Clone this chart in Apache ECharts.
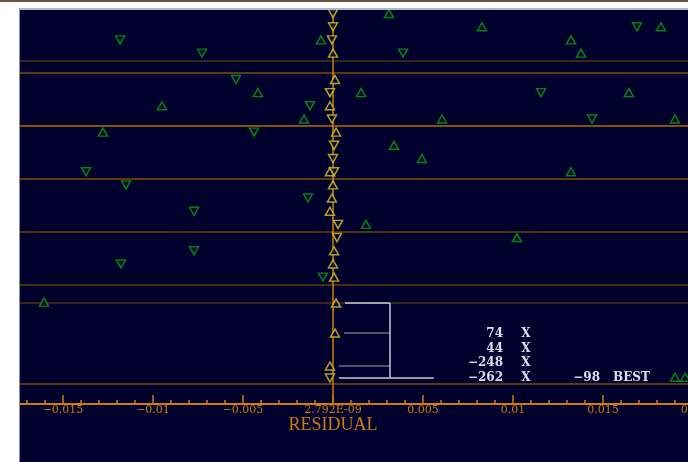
<!DOCTYPE html>
<html>
<head>
<meta charset="utf-8">
<script src="https://cdn.jsdelivr.net/npm/echarts@6/dist/echarts.min.js"></script>
<style>
  html, body { margin: 0; padding: 0; background: #ffffff; overflow: hidden; width: 688px; height: 462px; }
  #topRule { position: absolute; left: 0; top: 0; width: 688px; height: 2px; background: #6e5442; }
  #panel { position: absolute; left: 19px; top: 8px; width: 669px; height: 452px; background: #00002c;
           border-left: 1px solid #8c8ca8; border-top: 2px solid #b4b4cc; overflow: hidden; }
  #chart { position: absolute; left: -47px; top: 0; width: 790px; height: 452px; }
</style>
</head>
<body>
<div id="topRule"></div>
<div id="panel"><div id="chart"></div></div>
<script>
// Residual per row: [residual, row]
const yellowUp = [
  [0, 4], [0.00011, 6], [-0.00017, 8], [0.00017, 10], [-0.00017, 13], [0, 14],
  [-0.00006, 15], [-0.00017, 16], [0.00006, 19], [0, 20], [0.00006, 21]
];
const yellowDown = [
  [0, 1], [0, 2], [-0.00006, 3], [-0.00017, 7], [-0.00006, 9], [0.00006, 11],
  [0, 12], [0.00006, 13], [0.00028, 17], [0.00022, 18]
];
const greenUp = [
  [0.00311, 1], [0.00828, 2], [0.01822, 2], [-0.00067, 3], [0.01322, 3], [0.01378, 4],
  [-0.00417, 7], [0.00156, 7], [0.01644, 7], [-0.0095, 8], [-0.00161, 9], [0.00606, 9],
  [0.019, 9], [-0.01278, 10], [0.00339, 11], [0.00494, 12], [0.01322, 13], [0.00183, 17],
  [0.01022, 18], [-0.01606, 22.9], [0.019, 28.6], [0.01956, 28.6]
];
const greenDown = [
  [0.01689, 2], [-0.01183, 3], [-0.00728, 4], [0.00389, 4], [-0.00539, 6], [0.01156, 7],
  [-0.00128, 8], [0.01439, 9], [-0.00439, 10], [-0.01372, 13], [-0.0115, 14], [-0.00139, 15],
  [-0.00772, 16], [-0.00772, 19], [-0.01178, 20], [-0.00056, 21]
];

// Candidate solutions at the bottom, bracketed and scored
const candX = [0.00017, 0.00011, -0.00017, -0.00017];
const candRow = [22.97, 25.24, 27.75, 28.66];
const candDir = ['up', 'up', 'up', 'down'];
const candScore = [74, 44, -248, -262];
const candTag = 'X';
const bestScore = -98;
const bestTag = 'BEST';

// Horizontal guide rows
const guideRows = [4.58, 5.5, 9.54, 13.56, 17.56, 21.55, 22.97, 29.1];
const guideColors = ['#3c2418', '#5e3612', '#8a5008', '#62380f', '#52300f', '#4c2c12', '#3c2418', '#5e3612'];

const xTicks = { min: -0.02, max: 0.02, step: 0.005 };
const zeroLabel = '2.792E-09';
const axisTitle = 'RESIDUAL';

const ORANGE = '#cc7c12';
const NAVY = '#00002c';
const YELLOW = '#dcc828';
const GREEN = '#00a214';

const minus = s => s.replace(/-/g, '\u2212');

function tri(data, color, down) {
  return {
    type: 'scatter', data: data, symbol: 'triangle', symbolSize: [9, 8],
    symbolRotate: down ? 180 : 0, z: 5, silent: true,
    itemStyle: { color: NAVY, borderColor: color, borderWidth: 1.5 }
  };
}

const bracketLight = '#c8c8da';
const bracketDark = '#6c6c88';
const bracketEnd = 0.00317;
const bracketLong = 0.0056;
const bracketLines = candX.map((x, i) => {
  const last = i === candX.length - 1;
  return [
    { coord: [x + 0.0005, candRow[i]], lineStyle: { color: (i === 0 || last) ? bracketLight : bracketDark, width: 1.5 } },
    { coord: [last ? bracketLong : bracketEnd, candRow[i]] }
  ];
});
bracketLines.push([
  { coord: [bracketEnd, candRow[0]], lineStyle: { color: bracketLight, width: 1.5 } },
  { coord: [bracketEnd, candRow[candRow.length - 1]] }
]);

const textStyleW = { fill: '#dcdcec', font: 'bold 12px "DejaVu Serif"', textVerticalAlign: 'middle' };
const scoreGraphics = [];
const lineY0 = 324, lineStep = 14.5;
candScore.forEach((s, i) => {
  const y = lineY0 + i * lineStep;
  scoreGraphics.push({ type: 'text', x: 530, y: y, style: Object.assign({ text: minus(String(s)), textAlign: 'right' }, textStyleW) });
  scoreGraphics.push({ type: 'text', x: 553, y: y, style: Object.assign({ text: candTag, textAlign: 'center' }, textStyleW) });
});
const lastY = lineY0 + (candScore.length - 1) * lineStep;
scoreGraphics.push({ type: 'text', x: 627, y: lastY, style: Object.assign({ text: minus(String(bestScore)), textAlign: 'right' }, textStyleW) });
scoreGraphics.push({ type: 'text', x: 640, y: lastY, style: Object.assign({ text: bestTag, textAlign: 'left' }, textStyleW) });

const chart = echarts.init(document.getElementById('chart'), null, { renderer: 'canvas' });
chart.setOption({
  animation: false,
  backgroundColor: 'transparent',
  grid: { left: 0, right: 70, top: 0, bottom: 58, containLabel: false, outerBoundsMode: 'none' },
  xAxis: {
    type: 'value', min: xTicks.min, max: xTicks.max, interval: xTicks.step,
    name: axisTitle, nameLocation: 'middle', nameGap: 12, nameMoveOverlap: false,
    nameTextStyle: { color: ORANGE, fontFamily: 'Liberation Serif', fontSize: 18, verticalAlign: 'top' },
    axisLine: { show: true, lineStyle: { color: ORANGE, width: 2 } },
    axisTick: { show: true, inside: true, length: 9, lineStyle: { color: ORANGE, width: 1.5 } },
    minorTick: { show: true, splitNumber: 5, length: 4, lineStyle: { color: ORANGE, width: 1.5 } },
    axisLabel: {
      color: ORANGE, fontFamily: 'DejaVu Serif', fontSize: 11, margin: 1,
      formatter: v => Math.abs(v) < 1e-12 ? zeroLabel : minus(String(parseFloat(v.toFixed(4))))
    },
    splitLine: { show: false }
  },
  yAxis: { type: 'value', inverse: true, min: 0.73, max: 30.63, show: false, splitLine: { show: false } },
  graphic: scoreGraphics,
  series: [
    {
      type: 'scatter', data: [], z: 1, silent: true,
      markLine: {
        silent: true, symbol: 'none', label: { show: false }, animation: false,
        data: guideRows.map((r, i) => ({ yAxis: r, lineStyle: { color: guideColors[i], width: 2, type: 'solid' } }))
          .concat([{ xAxis: 0, lineStyle: { color: ORANGE, width: 1.5, type: 'solid' } }])
      }
    },
    {
      type: 'scatter', data: [], z: 3, silent: true,
      markLine: { silent: true, symbol: 'none', label: { show: false }, animation: false,
        lineStyle: { type: 'solid' }, data: bracketLines }
    },
    tri(greenUp, GREEN, false),
    tri(greenDown, GREEN, true),
    tri(yellowUp, YELLOW, false),
    tri(yellowDown, YELLOW, true),
    {
      type: 'scatter', symbol: 'triangle', symbolSize: [9, 8], z: 5, silent: true,
      itemStyle: { color: NAVY, borderColor: YELLOW, borderWidth: 1.5 },
      data: candX.map((x, i) => ({ value: [x, candRow[i]], symbolRotate: candDir[i] === 'down' ? 180 : 0 }))
    }
  ]
});
</script>
</body>
</html>
